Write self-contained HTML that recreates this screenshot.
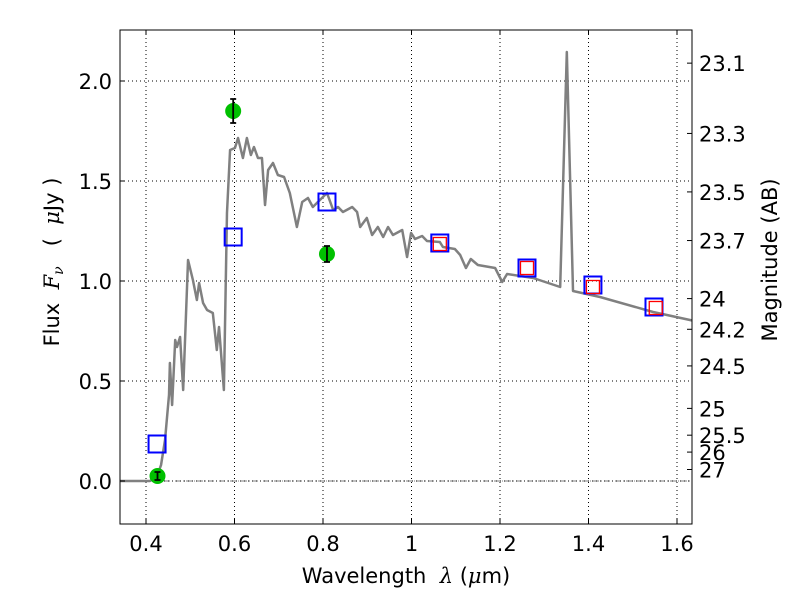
<!DOCTYPE html>
<html><head><meta charset="utf-8"><style>
body{margin:0;background:#fff;width:800px;height:600px;overflow:hidden}
svg{font-family:"DejaVu Sans","Liberation Sans",sans-serif}
</style></head><body>
<svg id="c" width="800" height="600" xmlns="http://www.w3.org/2000/svg"></svg>
<script>
const specLam=[0.34,0.409,0.425,0.434,0.443,0.447,0.452,0.454,0.459,0.466,0.470,0.477,0.484,0.495,0.506,0.515,0.520,0.529,0.538,0.551,0.560,0.565,0.576,0.583,0.590,0.601,0.608,0.619,0.628,0.637,0.644,0.653,0.662,0.669,0.676,0.687,0.698,0.712,0.725,0.741,0.753,0.766,0.777,0.793,0.809,0.823,0.834,0.845,0.866,0.877,0.884,0.899,0.911,0.924,0.936,0.947,0.958,0.979,0.990,0.999,1.008,1.024,1.035,1.064,1.071,1.098,1.110,1.123,1.134,1.150,1.189,1.205,1.216,1.275,1.336,1.351,1.365,1.426,1.546,1.640];
const specFlux=[0,0,0.025,0.08,0.205,0.305,0.43,0.59,0.38,0.705,0.67,0.72,0.455,1.105,1.005,0.905,0.99,0.89,0.855,0.84,0.655,0.77,0.455,1.34,1.655,1.665,1.715,1.615,1.715,1.63,1.67,1.615,1.615,1.38,1.555,1.59,1.53,1.52,1.44,1.27,1.395,1.415,1.37,1.405,1.44,1.355,1.37,1.345,1.37,1.345,1.27,1.315,1.23,1.27,1.22,1.27,1.23,1.255,1.12,1.24,1.21,1.225,1.2,1.195,1.17,1.16,1.13,1.065,1.11,1.08,1.065,0.995,1.035,1.015,0.97,2.145,0.95,0.92,0.845,0.80];
const photLam=[0.426,0.597,0.809];
const photFlux=[0.025,1.85,1.135];
const photErr=[0.02,0.06,0.04];
const modLam=[0.425,0.597,0.809,1.064,1.261,1.41,1.548];
const modFlux=[0.185,1.22,1.395,1.19,1.065,0.98,0.87];
const redLam=[1.064,1.261,1.41,1.552];
const redFlux=[1.185,1.065,0.97,0.865];
const xTicks=[0.4,0.6,0.8,1.0,1.2,1.4,1.6];
const xTickLabels=["0.4","0.6","0.8","1","1.2","1.4","1.6"];
const yTicks=[0,0.5,1.0,1.5,2.0];
const yTickLabels=["0.0","0.5","1.0","1.5","2.0"];
const magTicks=[23.1,23.3,23.5,23.7,24,24.2,24.5,25,25.5,26,27];
const magLabels=["23.1","23.3","23.5","23.7","24","24.2","24.5","25","25.5","26","27"];

const L=120,R=692,T=30,B=524;
const X=v=>146+(v-0.4)*442.5;
const Y=v=>481-v*200;
const svg=document.getElementById('c');
const NS="http://www.w3.org/2000/svg";
function mk(t,a,p){const e=document.createElementNS(NS,t);for(const k in a)e.setAttribute(k,a[k]);(p||svg).appendChild(e);return e;}

const clip=mk('clipPath',{id:'cp'});mk('rect',{x:L,y:T,width:R-L,height:B-T},clip);
xTicks.forEach(v=>{const g=mk('line',{x1:X(v),x2:X(v),y1:T,y2:B,stroke:'#000','stroke-width':1,'stroke-dasharray':'1,3'});

});
yTicks.forEach(v=>{const g=mk('line',{x1:L,x2:R,y1:Y(v),y2:Y(v),stroke:'#000','stroke-width':1,'stroke-dasharray':'1,3'});

});
const zl=mk('line',{x1:L,x2:R,y1:Y(0),y2:Y(0),stroke:'#000','stroke-width':0.6,'stroke-dasharray':'6,2,1,2'});


const sp=mk('polyline',{points:specLam.map((l,i)=>X(l)+','+Y(specFlux[i])).join(' '),fill:'none',stroke:'#808080','stroke-width':2.5,'clip-path':'url(#cp)','stroke-linejoin':'round'});


modLam.forEach((l,i)=>{const r=mk('rect',{x:X(l)-8.5,y:Y(modFlux[i])-8.5,width:17,height:17,fill:'none',stroke:'#0000ff','stroke-width':2});

});
redLam.forEach((l,i)=>{const r=mk('rect',{x:X(l)-6.5,y:Y(redFlux[i])-6.5,width:13,height:13,fill:'none',stroke:'#ff0000','stroke-width':1.3});

});
photLam.forEach((l,i)=>{const c=mk('circle',{cx:X(l),cy:Y(photFlux[i]),r:8,fill:'#00c000'});


const y1=Y(photFlux[i]+photErr[i]),y2=Y(photFlux[i]-photErr[i]),x=X(l);
const e=mk('path',{d:`M${x},${y1}V${y2}M${x-3},${y1}H${x+3}M${x-3},${y2}H${x+3}`,stroke:'#000','stroke-width':1.8,fill:'none'});

});
const fr=mk('rect',{x:L,y:T,width:R-L,height:B-T,fill:'none',stroke:'#000','stroke-width':1});


xTicks.forEach((v,i)=>{mk('line',{x1:X(v),x2:X(v),y1:B,y2:B-5,stroke:'#000'});mk('line',{x1:X(v),x2:X(v),y1:T,y2:T+5,stroke:'#000'});
const t=mk('text',{x:X(v),y:B+27,'text-anchor':'middle','font-size':21});t.textContent=xTickLabels[i];

});
yTicks.forEach((v,i)=>{mk('line',{x1:L,x2:L+5,y1:Y(v),y2:Y(v),stroke:'#000'});
const t=mk('text',{x:L-8,y:Y(v)+8,'text-anchor':'end','font-size':21});t.textContent=yTickLabels[i];

});
magTicks.forEach((m,i)=>{const y=Y(Math.pow(10,(23.9-m)/2.5));mk('line',{x1:R,x2:R-5,y1:y,y2:y,stroke:'#000'});
const t=mk('text',{x:R+7,y:y+8,'font-size':21});t.textContent=magLabels[i];

});
let t=mk('text',{x:406,y:583,'text-anchor':'middle','font-size':21});t.innerHTML='Wavelength&#160; <tspan font-style="italic" font-family="DejaVu Serif,serif">λ</tspan> (<tspan font-style="italic" font-family="DejaVu Serif,serif">μ</tspan>m)';


t=mk('text',{x:0,y:0,'text-anchor':'middle','font-size':21,transform:'translate(59,262) rotate(-90)'});t.innerHTML='Flux&#160; <tspan font-style="italic" font-family="DejaVu Serif,serif">F</tspan><tspan font-style="italic" font-size="14" dy="4" font-family="DejaVu Serif,serif">ν</tspan><tspan dy="-4">&#160;&#160; (&#160; </tspan><tspan font-style="italic" font-family="DejaVu Serif,serif">μ</tspan>Jy )';


t=mk('text',{x:0,y:0,'text-anchor':'middle','font-size':21,transform:'translate(777,260) rotate(-90)'});t.textContent='Magnitude (AB)';


</script>
</body></html>
